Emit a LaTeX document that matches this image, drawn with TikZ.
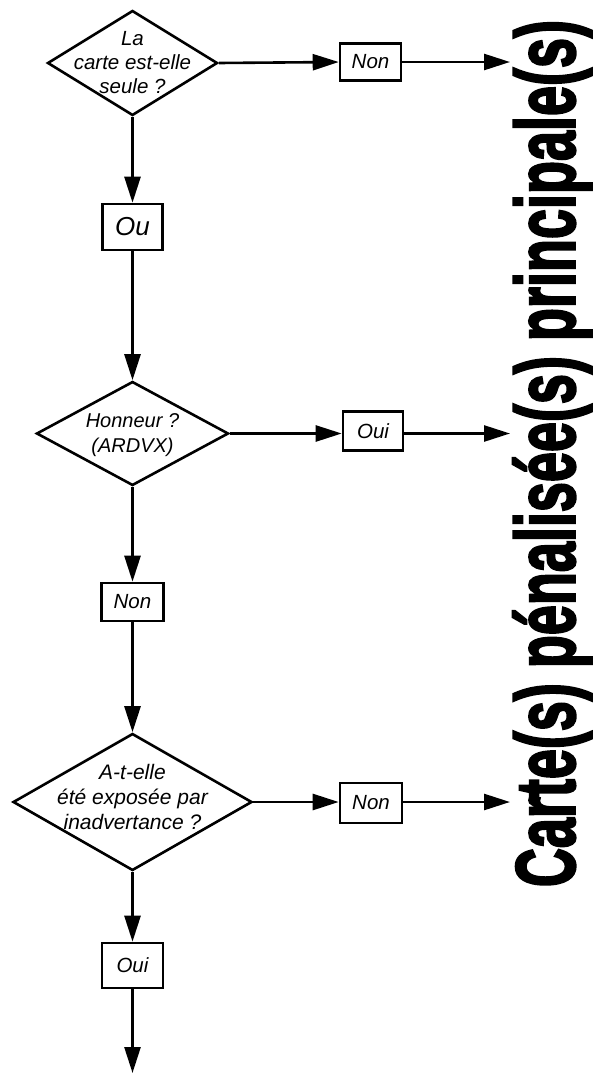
\documentclass[tikz,border=0pt]{standalone}
\usepackage{fontspec}
\setmainfont{Liberation Sans}
\newfontfamily\titlefont{Liberation Sans}[BoldFeatures={FakeBold=3}]
\usetikzlibrary{arrows.meta,shapes.geometric}
\begin{document}
\begin{tikzpicture}[x=1pt,y=-1pt,
  line width=2.6pt,
  arr/.style={-{Triangle[length=26pt,width=16pt]}},
  dia/.style={draw,shape=diamond,inner sep=0pt,fill=white},
  dtext/.style={align=center,inner sep=0pt},
  box/.style={draw,fill=white,inner sep=0pt,font=\itshape\fontsize{20.5}{24}\selectfont}]
\useasboundingbox (0,0) rectangle (592,1074);
% decisions
\node[dia,minimum width=170pt,minimum height=105pt] (d1) at (132.5,63) {};
\node[dtext,font=\itshape\fontsize{20.5}{24}\selectfont] (t1) at (d1) {La\\carte est-elle\\seule ?};
\node[dia,minimum width=192pt,minimum height=104pt] (d2) at (132.5,433.5) {};
\node[dtext,font=\itshape\fontsize{20}{25}\selectfont,yshift=-2pt] (t2) at (d2) {Honneur ?\\(ARDVX)};
\node[dia,minimum width=239pt,minimum height=137pt] (d3) at (132.5,802) {};
\node[dtext,font=\itshape\fontsize{21}{25}\selectfont,yshift=5pt] (t3) at (d3) {A-t-elle\\été exposée par\\inadvertance ?};
% boxes
\node[box,minimum width=61pt,minimum height=37pt] (n1) at (370.5,62) {Non};
\node[box,minimum width=60pt,minimum height=46pt,font=\itshape\fontsize{26}{30}\selectfont] (ou) at (132.5,227) {Ou};
\node[box,minimum width=60pt,minimum height=39pt] (oui1) at (373,431) {Oui};
\node[box,minimum width=62pt,minimum height=38pt] (n2) at (132.5,602) {Non};
\node[box,minimum width=62pt,minimum height=40pt] (n3) at (371,803) {Non};
\node[box,minimum width=61pt,minimum height=45pt] (oui2) at (132.5,965.5) {Oui};
% title
\node[rotate=90,inner sep=0pt] (title) at (552.5,453.5)
  {\resizebox*{867pt}{79pt}{\titlefont\bfseries Carte(s) pénalisée(s) principale(s)}};
\coordinate (e1) at (510,62);
\coordinate (e2) at (510,433.5);
\coordinate (e3) at (510,802);
\coordinate (e4) at (132.5,1073);
% connectors
\draw[arr] (d1.east) -- (n1.west);
\draw[arr] (n1.east) -- (e1);
\draw[arr] (d1.south) -- (ou.north);
\draw[arr] (ou.south) -- (d2.north);
\draw[arr] (d2.east) -- (d2.east -| oui1.west);
\draw[arr] (d2.east -| oui1.east) -- (e2);
\draw[arr] (d2.south) -- (n2.north);
\draw[arr] (n2.south) -- (d3.north);
\draw[arr] (d3.east) -- (d3.east -| n3.west);
\draw[arr] (d3.east -| n3.east) -- (e3);
\draw[arr] (d3.south) -- (oui2.north);
\draw[arr] (oui2.south) -- (e4);
\end{tikzpicture}
\end{document}
